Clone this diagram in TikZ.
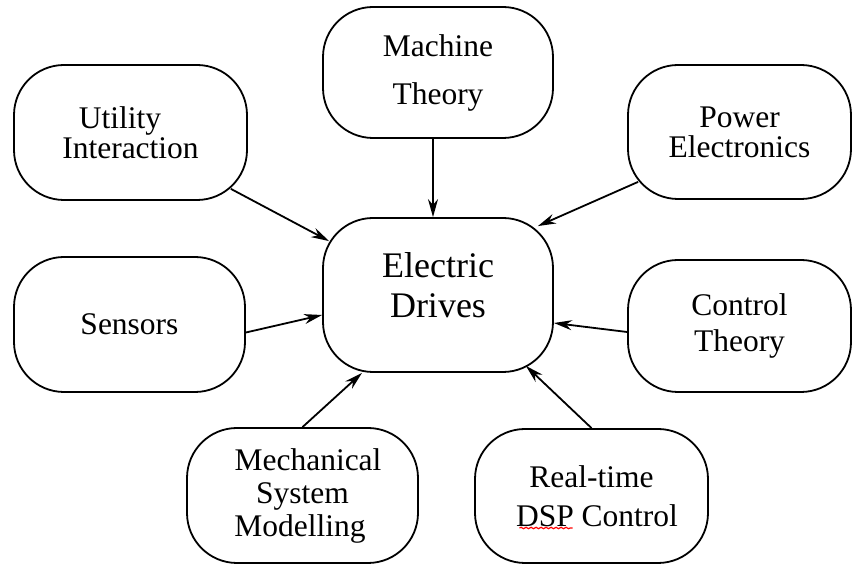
\documentclass[tikz,border=0pt]{standalone}
\usepackage{fontspec}
\setmainfont{Liberation Serif}
\usetikzlibrary{arrows.meta,decorations.pathmorphing}
\newcommand{\topicfont}[1]{\fontsize{15.75}{#1}\selectfont}

\begin{document}
\begin{tikzpicture}[->,>={Stealth[length=9pt,width=5pt]},x=0.5pt,y=-0.5pt,
                    line width=0.9pt,
                    topic/.style={draw,rounded corners=25pt,align=center,inner sep=0pt}]

  \useasboundingbox (0,0) rectangle (852,565);

  \node[topic,minimum width=115pt,minimum height=77pt,font=\fontsize{18}{20}\selectfont,
        text depth=10pt]                                   (ed)    at (438,295)   {Electric\\Drives};
  \node[topic,minimum width=116.5pt,minimum height=67.5pt,font=\topicfont{13}] (util) at (130.5,132.5) {Utility\hspace*{10.5pt}\\Interaction};
  \node[topic,minimum width=115pt,minimum height=65.5pt,font=\topicfont{24}]   (mach) at (438,72.5)   {Machine\\Theory};
  \node[topic,minimum width=111.5pt,minimum height=67pt,font=\topicfont{15}]   (power) at (739.5,132) {Power\\Electronics};
  \node[topic,minimum width=115.5pt,minimum height=67.5pt,font=\topicfont{18}] (sens) at (129.5,324.5) {Sensors};
  \node[topic,minimum width=111.5pt,minimum height=66pt,font=\topicfont{18}]   (ctrl) at (739.5,326)  {Control\\Theory};
  \node[topic,minimum width=115.5pt,minimum height=67.5pt,font=\topicfont{16.5}] (mech) at (302.5,495.5)
        {\hspace*{5.5pt}Mechanical\\System\hspace*{7.5pt}\\Modelling\hspace*{2.5pt}};
  \node[topic,minimum width=116.5pt,minimum height=67pt,font=\topicfont{19.5}] (rt)   at (591.5,496)  {Real-time\\\hspace*{5.5pt}DSP Control};

  \path ([xshift=-8.5pt,yshift=6pt]util.south east)  edge ([xshift=3.5pt,yshift=-12pt]ed.north west)
        ([xshift=-2.5pt]mach.south)                  edge ([xshift=-2.5pt]ed.north)
        ([xshift=5.5pt,yshift=9pt]power.south west)  edge ([xshift=-8pt,yshift=-4.5pt]ed.north east)
        ([yshift=-4pt]sens.east)                     edge ([yshift=-10pt]ed.west)
        ([yshift=-3pt]ctrl.west)                     edge ([yshift=-14pt]ed.east)
        (mech.north)                                 edge ([xshift=-38pt]ed.south)
        (rt.north)                                   edge ([xshift=-14pt,yshift=3.5pt]ed.south east);

  % spell-check mark under DSP
  \draw[-,red,line width=0.6pt,decorate,decoration={snake,amplitude=0.35pt,segment length=2.5pt}]
        ([xshift=-36pt,yshift=-16pt]rt.center) -- ++(53,0);
\end{tikzpicture}
\end{document}
